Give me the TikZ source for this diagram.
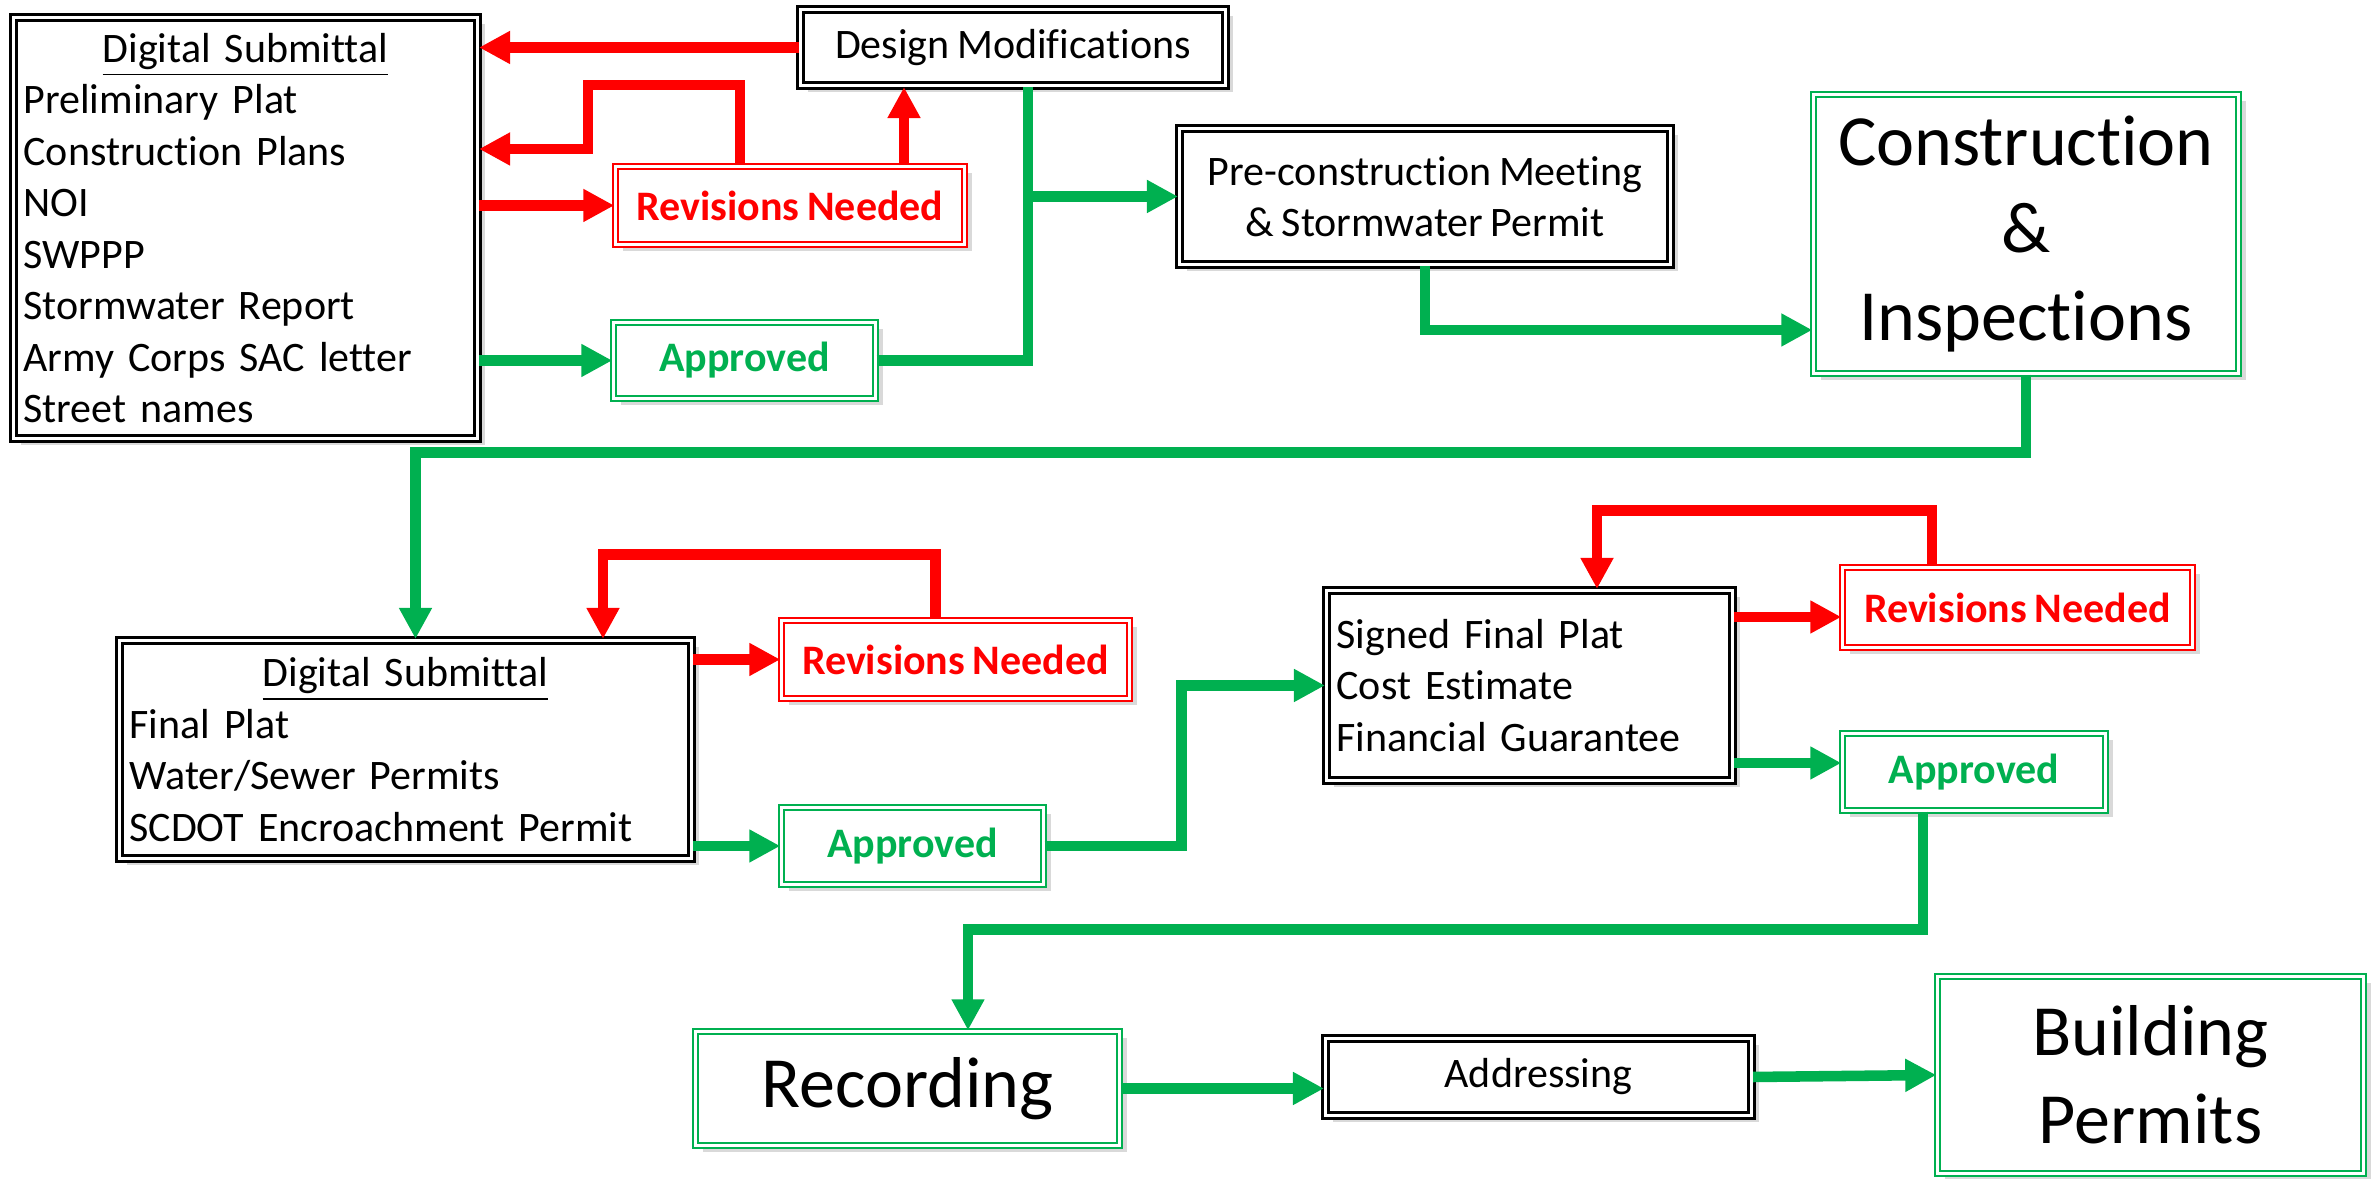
\documentclass[tikz,border=0pt]{standalone}
\usepackage{fontspec}
\setmainfont{Carlito}[Ligatures={TeX,NoCommon}, WordSpace=0.8]
\usepackage{tikz}
\usetikzlibrary{arrows.meta,shadows}

\definecolor{okgreen}{HTML}{00B050}
\definecolor{nored}{HTML}{FF0000}

\begin{document}
\begin{tikzpicture}[
    every node/.style={font=\fontsize{11.95}{14.65}\selectfont},
    blackbox/.style={draw=black, double, line width=0.9pt, double distance=0.8pt, fill=white,
      drop shadow={shadow xshift=0.07cm, shadow yshift=-0.07cm, opacity=0.3}, inner sep=0.1cm},
    greenbox/.style={blackbox, draw=okgreen, line width=0.7pt},
    redbox/.style={blackbox, draw=nored, line width=0.7pt},
    bigtext/.style={font=\fontsize{20.5}{25}\selectfont, align=center},
    redarrow/.style={draw=nored, line width=3pt, -{Triangle[length=0.31cm,width=0.31cm]}},
    greenarrow/.style={draw=okgreen, line width=3pt, -{Triangle[length=0.31cm,width=0.31cm]}},
    greenline/.style={draw=okgreen, line width=3pt}
  ]
  \useasboundingbox (0,0) rectangle (23.71,11.79);

  % First submittal and its two outcomes
  \node[blackbox, minimum width=4.62cm, minimum height=4.21cm, text width=4.44cm, align=left] (ds1) at (2.455,9.51)
    {\makebox[\linewidth]{\underline{Digital Submittal}}\\ Preliminary Plat\\ Construction Plans\\ NOI\\ SWPPP\\ Stormwater Report\\ Army Corps SAC letter\\ Street names};
  \node[blackbox, minimum width=4.25cm, minimum height=0.76cm] (dm) at (10.13,11.315) {Design Modifications};
  \node[redbox, minimum width=3.49cm, minimum height=0.78cm, text=nored, font=\fontsize{11.95}{14.65}\selectfont\bfseries] (rev1) at (7.90,9.735) {Revisions Needed};
  \node[greenbox, minimum width=2.62cm, minimum height=0.76cm, text=okgreen, font=\fontsize{11.95}{14.65}\selectfont\bfseries] (app1) at (7.445,8.185) {Approved};
  \node[blackbox, minimum width=4.91cm, minimum height=1.36cm, align=center] (precon) at (14.25,9.825) {Pre-construction Meeting\\ \& Stormwater Permit};
  \node[greenbox, minimum width=4.25cm, minimum height=2.79cm, bigtext] (constr) at (20.26,9.45) {Construction\\ \&\\ Inspections};

  % Second submittal
  \node[blackbox, minimum width=5.72cm, minimum height=2.18cm, text width=5.52cm, align=left] (ds2) at (4.055,4.295)
    {\makebox[\linewidth]{\underline{Digital Submittal}}\\ Final Plat\\ Water/Sewer Permits\\ SCDOT Encroachment Permit};
  \node[redbox, minimum width=3.48cm, minimum height=0.78cm, text=nored, font=\fontsize{11.95}{14.65}\selectfont\bfseries] (rev2) at (9.555,5.195) {Revisions Needed};
  \node[greenbox, minimum width=2.62cm, minimum height=0.77cm, text=okgreen, font=\fontsize{11.95}{14.65}\selectfont\bfseries] (app2) at (9.125,3.33) {Approved};

  % Final plat check
  \node[blackbox, minimum width=4.04cm, minimum height=1.90cm, text width=3.86cm, align=left] (sfp) at (15.295,4.935)
    {Signed Final Plat\\ Cost Estimate\\ Financial Guarantee};
  \node[redbox, minimum width=3.50cm, minimum height=0.80cm, text=nored, font=\fontsize{11.95}{14.65}\selectfont\bfseries] (rev3) at (20.175,5.715) {Revisions Needed};
  \node[greenbox, minimum width=2.63cm, minimum height=0.77cm, text=okgreen, font=\fontsize{11.95}{14.65}\selectfont\bfseries] (app3) at (19.74,4.07) {Approved};

  % Last row
  \node[greenbox, minimum width=4.24cm, minimum height=1.14cm, bigtext] (rec) at (9.075,0.905) {Recording};
  \node[blackbox, minimum width=4.26cm, minimum height=0.77cm] (addr) at (15.385,1.02) {Addressing};
  \node[greenbox, minimum width=4.26cm, minimum height=1.97cm, bigtext] (bp) at (21.505,1.04) {Building\\ Permits};

  % Helper points for the bends
  \coordinate (loopA) at (5.88,10.94);
  \coordinate (loopB) at (5.88,10.30);
  \coordinate (rv1up) at ([xshift=1.14cm]rev1.north);
  \coordinate (dmfoot) at ([xshift=0.15cm]dm.south);
  \coordinate (cin) at ([yshift=-0.96cm]constr.west);
  \coordinate (sfpr) at ([yshift=0.685cm]sfp.east);
  \coordinate (sfpg) at ([yshift=-0.775cm]sfp.east);

  % Top row connectors
  \draw[redarrow] (dm.west) -- (dm.west -| ds1.east);
  \draw[redarrow] ([xshift=-0.5cm]rev1.north) |- (loopA) -- (loopB) -- (loopB -| ds1.east);
  \draw[redarrow] (rv1up) -- (rv1up |- dm.south);
  \draw[redarrow] (ds1.east |- rev1.west) -- (rev1.west);
  \draw[greenarrow] (ds1.east |- app1.west) -- (app1.west);
  \draw[greenline] (app1.east) -| (dmfoot);
  \draw[greenarrow] (dmfoot |- precon.west) -- (precon.west);
  \draw[greenarrow] (precon.south) |- (cin);

  % Down to the second submittal
  \draw[greenarrow] (constr.south) -- ++(0,-0.78) -| ([xshift=0.1cm]ds2.north);
  \draw[redarrow] ([xshift=-0.2cm]rev2.north) -- ++(0,0.65) -| ([xshift=1.975cm]ds2.north);
  \draw[redarrow] (ds2.east |- rev2.west) -- (rev2.west);
  \draw[greenarrow] (ds2.east |- app2.west) -- (app2.west);
  \draw[greenarrow] (app2.east) -- ++(1.37,0) |- (sfp.west);

  % Final plat loop
  \draw[redarrow] ([xshift=-0.855cm]rev3.north) -- ++(0,0.56) -| ([xshift=0.675cm]sfp.north);
  \draw[redarrow] (sfpr) -- (sfpr -| rev3.west);
  \draw[greenarrow] (sfpg) -- (sfpg -| app3.west);

  % Bottom row
  \draw[greenarrow] ([xshift=-0.51cm]app3.south) -- ++(0,-1.18) -| ([xshift=0.605cm]rec.north);
  \draw[greenarrow] (rec.east) -- (rec.east -| addr.west);
  \draw[greenarrow] (addr.east) -- (bp.west);

\end{tikzpicture}
\end{document}
